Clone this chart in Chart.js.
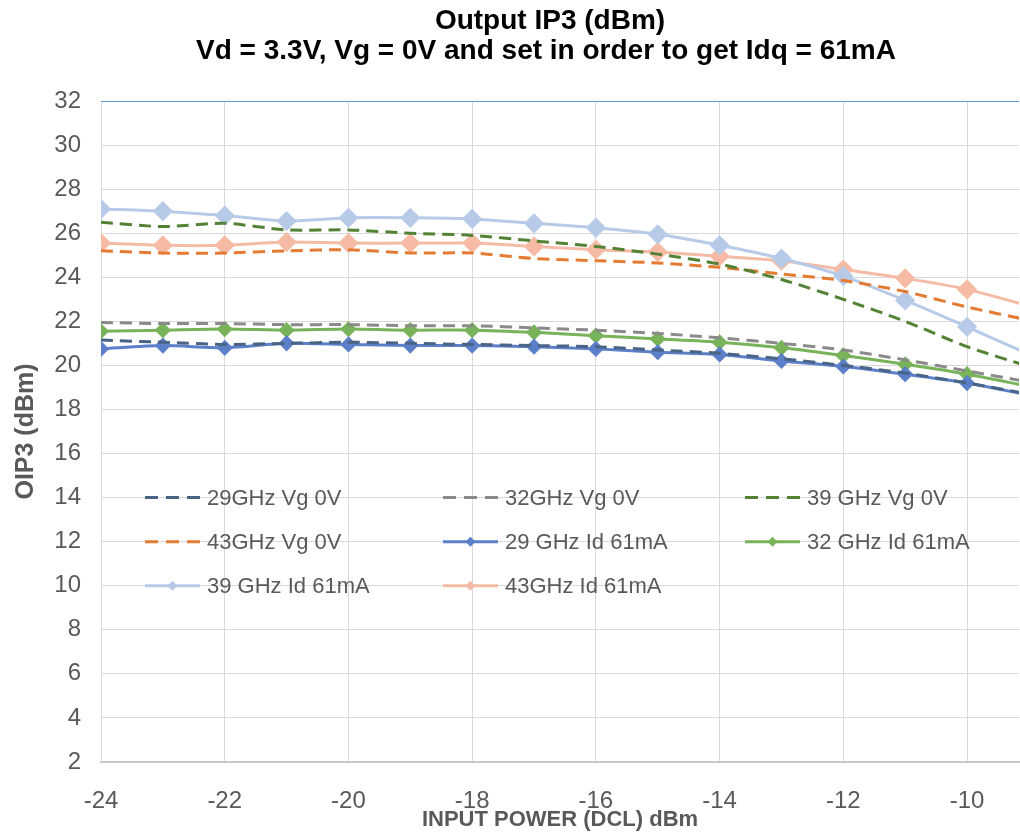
<!DOCTYPE html>
<html>
<head>
<meta charset="utf-8">
<title>Output IP3</title>
<script src="https://cdn.jsdelivr.net/npm/chart.js@4.4.0/dist/chart.umd.min.js"></script>
<style>
  html, body { margin: 0; padding: 0; background: #fff; overflow: hidden; }
  canvas { display: block; }
</style>
</head>
<body>
<!-- canvas is a little wider than the window: the plot runs off the right edge like the original -->
<canvas id="oip3Chart" width="1030" height="832"></canvas>
<script>
// input power steps (dBm), last one sits just past the right edge
const inputPower = [-24, -23, -22, -21, -20, -19, -18, -17, -16, -15, -14, -13, -12, -11, -10, -9];
const xTicks = [-24, -22, -20, -18, -16, -14, -12, -10];
const yTicks = [2, 4, 6, 8, 10, 12, 14, 16, 18, 20, 22, 24, 26, 28, 30, 32];

// OIP3 (dBm)
const vg29 = [21.15, 21.05, 20.95, 21.0, 21.05, 21.0, 20.95, 20.9, 20.85, 20.7, 20.55, 20.3, 20.0, 19.65, 19.2, 18.7];
const vg32 = [21.95, 21.9, 21.9, 21.85, 21.85, 21.8, 21.8, 21.7, 21.6, 21.45, 21.25, 21.0, 20.7, 20.25, 19.75, 19.25];
const vg39 = [26.5, 26.3, 26.45, 26.15, 26.15, 26.0, 25.9, 25.65, 25.4, 25.05, 24.6, 23.9, 23.0, 22.0, 20.85, 19.95];
const vg43 = [25.2, 25.1, 25.1, 25.2, 25.25, 25.1, 25.1, 24.85, 24.75, 24.65, 24.45, 24.15, 23.85, 23.35, 22.65, 22.05];
const id29 = [20.75, 20.9, 20.8, 21.0, 20.95, 20.9, 20.9, 20.85, 20.75, 20.6, 20.5, 20.2, 19.95, 19.6, 19.2, 18.65];
const id32 = [21.55, 21.6, 21.65, 21.6, 21.65, 21.6, 21.6, 21.5, 21.35, 21.2, 21.05, 20.8, 20.45, 20.05, 19.6, 19.05];
const id39 = [27.1, 27.0, 26.8, 26.55, 26.7, 26.7, 26.65, 26.45, 26.25, 25.95, 25.45, 24.85, 24.05, 22.95, 21.75, 20.5];
const id43 = [25.55, 25.45, 25.45, 25.6, 25.55, 25.55, 25.55, 25.4, 25.25, 25.15, 24.95, 24.75, 24.35, 23.95, 23.45, 22.7];

const seriesLabels = ['29GHz Vg 0V', '32GHz Vg 0V', '39 GHz Vg 0V', '43GHz Vg 0V',
  '29 GHz Id 61mA', '32 GHz Id 61mA', '39 GHz Id 61mA', '43GHz Id 61mA'];
const seriesValues = [vg29, vg32, vg39, vg43, id29, id32, id39, id43];
const seriesColors = ['#4a6485', '#8a8a8a', '#548235', '#e57a33', '#5b7fc9', '#78b35a', '#b7cae8', '#f5bba4'];
const seriesDashed = [true, true, true, true, false, false, false, false];
const titleLines = ['Output IP3 (dBm)', 'Vd = 3.3V, Vg = 0V and set in order to get Idq = 61mA'];

const FONT = '"Liberation Sans", Arial, sans-serif';
const TEXT_GREY = '#595959';

const toPoints = vals => vals.map((v, i) => ({ x: inputPower[i], y: v }));

const datasets = seriesLabels.map((label, i) => ({
    label: label,
    data: toPoints(seriesValues[i]),
    borderColor: seriesColors[i],
    backgroundColor: seriesColors[i],
    borderWidth: 3,
    borderDash: seriesDashed[i] ? [12, 7] : [],
    pointStyle: 'rectRot',
    pointRadius: seriesDashed[i] ? 0 : (i === 6 || i === 7 ? 8 : 6),
    pointHoverRadius: 0,
    tension: 0.25,
    fill: false
}));

// two-line bold title, drawn by hand
const chartTitle = {
    id: 'chartTitle',
    afterDraw(chart) {
        const ctx = chart.ctx;
        ctx.save();
        ctx.fillStyle = '#000';
        ctx.textAlign = 'center';
        ctx.textBaseline = 'middle';
        ctx.font = 'bold 28px ' + FONT;
        ctx.fillText(titleLines[0], 550, 21);
        ctx.fillText(titleLines[1], 546, 51);
        ctx.restore();
    }
};

// legend sits inside the plot, 3 columns, rows on the 14 / 12 / 10 gridlines
const insideLegend = {
    id: 'insideLegend',
    afterDatasetsDraw(chart) {
        const { ctx, chartArea, scales } = chart;
        const cols = [chartArea.left + 44, chartArea.left + 342, chartArea.left + 644];
        const rows = [14, 12, 10].map(v => scales.y.getPixelForValue(v));
        chart.data.datasets.forEach((ds, i) => {
            const x = cols[i % 3];
            const y = rows[Math.floor(i / 3)];
            ctx.save();
            ctx.strokeStyle = ds.borderColor;
            ctx.lineWidth = 3;
            ctx.setLineDash(ds.borderDash.length ? [13, 8] : []);
            ctx.beginPath();
            ctx.moveTo(x, y);
            ctx.lineTo(x + 55, y);
            ctx.stroke();
            if (ds.pointRadius > 0) {
                const cx = x + 27.5, r = 5;
                ctx.setLineDash([]);
                ctx.fillStyle = ds.backgroundColor;
                ctx.beginPath();
                ctx.moveTo(cx, y - r);
                ctx.lineTo(cx + r, y);
                ctx.lineTo(cx, y + r);
                ctx.lineTo(cx - r, y);
                ctx.closePath();
                ctx.fill();
            }
            ctx.fillStyle = TEXT_GREY;
            ctx.font = '22px ' + FONT;
            ctx.textBaseline = 'middle';
            ctx.fillText(ds.label, x + 62, y + 1);
            ctx.restore();
        });
    }
};

new Chart(document.getElementById('oip3Chart'), {
    type: 'line',
    data: { datasets: datasets },
    plugins: [insideLegend, chartTitle],
    options: {
        responsive: false,
        animation: false,
        layout: { padding: { left: 0, right: 0, top: 101, bottom: 0 } },
        plugins: {
            legend: { display: false },
            tooltip: { enabled: false },
            title: { display: false }
        },
        scales: {
            x: {
                type: 'linear',
                min: -24,
                max: -9.16,
                afterBuildTicks: axis => { axis.ticks = xTicks.map(v => ({ value: v })); },
                afterFit: axis => {
                    axis.height = 70;
                    axis.paddingLeft = 0;
                    axis.paddingRight = 0;
                },
                grid: { color: '#d9d9d9', lineWidth: 1, drawTicks: false },
                border: { display: true, color: '#c8c8c8', width: 2 },
                ticks: {
                    color: TEXT_GREY,
                    font: { family: FONT, size: 24, lineHeight: 1 },
                    padding: 27,
                    maxRotation: 0
                },
                title: {
                    display: true,
                    text: 'INPUT POWER (DCL) dBm',
                    color: TEXT_GREY,
                    font: { family: FONT, size: 22, weight: 'bold', lineHeight: 1.1 },
                    padding: { top: 0, bottom: 0 }
                }
            },
            y: {
                type: 'linear',
                min: 2,
                max: 32,
                afterBuildTicks: axis => { axis.ticks = yTicks.map(v => ({ value: v })); },
                afterFit: axis => {
                    axis.width = 101;
                    axis.paddingTop = 0;
                    axis.paddingBottom = 0;
                },
                grid: {
                    color: c => (c.tick && c.tick.value === 32) ? '#5b9bd5' : '#d9d9d9',
                    lineWidth: 1,
                    drawTicks: false
                },
                border: { display: false },
                ticks: {
                    color: TEXT_GREY,
                    font: { family: FONT, size: 24 },
                    padding: 20
                },
                title: {
                    display: true,
                    text: 'OIP3 (dBm)',
                    color: TEXT_GREY,
                    font: { family: FONT, size: 25, weight: 'bold', lineHeight: 1.2 },
                    padding: { top: 11, bottom: 0 }
                }
            }
        }
    }
});
</script>
</body>
</html>
